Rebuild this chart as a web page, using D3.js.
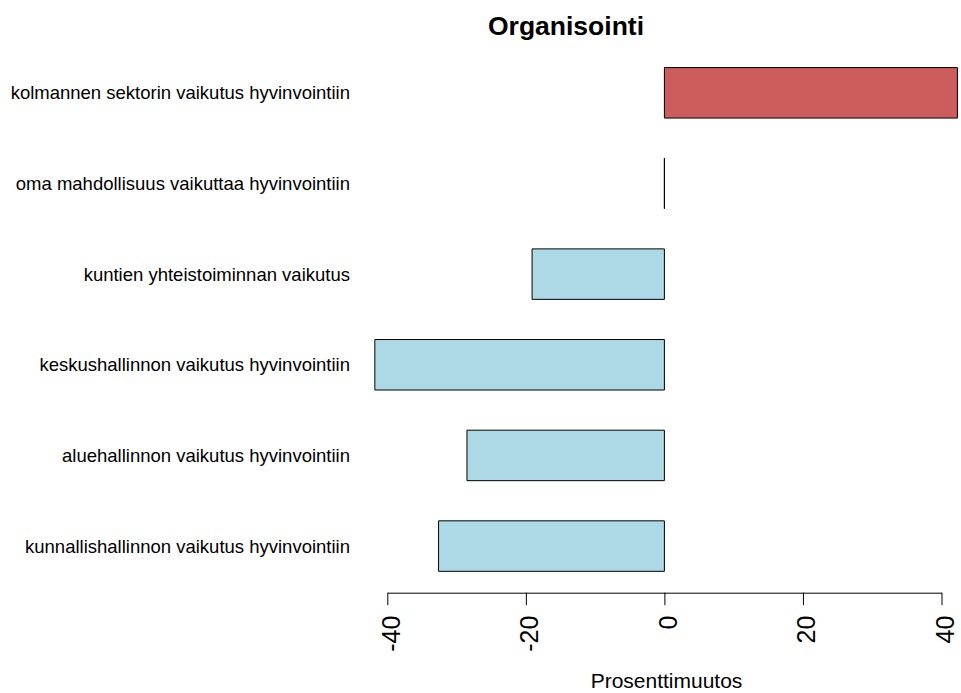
<!DOCTYPE html>
<html>
<head>
<meta charset="utf-8">
<script src="https://cdn.jsdelivr.net/npm/d3@7"></script>
<style>
  body { margin: 0; background: #fff; }
  svg text { font-family: "Liberation Sans", Arial, Helvetica, sans-serif; fill: #000; }
</style>
</head>
<body>
<script>
// kategoriat ylhäältä alas
var categories = [
  "kolmannen sektorin vaikutus hyvinvointiin",
  "oma mahdollisuus vaikuttaa hyvinvointiin",
  "kuntien yhteistoiminnan vaikutus",
  "keskushallinnon vaikutus hyvinvointiin",
  "aluehallinnon vaikutus hyvinvointiin",
  "kunnallishallinnon vaikutus hyvinvointiin"
];
// prosenttimuutos
var values = [42.3, 0, -19.1, -41.8, -28.5, -32.6];
var xTicks = [-40, -20, 0, 20, 40];

var width = 961, height = 693;

var svg = d3.select("body").append("svg")
  .attr("width", width)
  .attr("height", height);

var xScale = d3.scaleLinear().domain([-40, 40]).range([387.3, 941.5]);
var yScale = d3.scaleBand()
  .domain(categories)
  .range([47.5, 591.4])
  .paddingInner(0.443)
  .paddingOuter(0.2215);

// palkit (path, jotta nollapalkki näkyy viivana)
svg.append("g").selectAll("path")
  .data(categories)
  .enter()
  .append("path")
  .attr("d", function (d, i) {
    var x0 = xScale(0), x1 = xScale(values[i]);
    var y0 = yScale(d), y1 = y0 + yScale.bandwidth();
    return "M" + x0 + "," + y0 + "H" + x1 + "V" + y1 + "H" + x0 + "Z";
  })
  .attr("fill", function (d, i) { return values[i] > 0 ? "#CD5C5C" : "#ADD8E6"; })
  .attr("stroke", "#000")
  .attr("stroke-width", 1);

// nimet
svg.append("g").selectAll("text")
  .data(categories)
  .enter()
  .append("text")
  .attr("x", 350)
  .attr("y", function (d) { return yScale(d) + yScale.bandwidth() / 2; })
  .attr("dy", "0.35em")
  .attr("text-anchor", "end")
  .style("font-size", "18.5px")
  .text(function (d) { return d; });

// x-akseli
var xAxis = d3.axisBottom(xScale)
  .tickValues(xTicks)
  .tickSize(12.5)
  .tickSizeOuter(0)
  .tickFormat(function (d) { return String(d); });

var xAxisG = svg.append("g")
  .attr("transform", "translate(0,592.7)")
  .call(xAxis);
xAxisG.select(".domain").attr("stroke", "#000");
xAxisG.selectAll(".tick line").attr("stroke", "#000");
xAxisG.selectAll(".tick text")
  .attr("y", 0)
  .attr("dy", "0.47em")
  .attr("text-anchor", "end")
  .attr("transform", "translate(0,23) rotate(-90)")
  .style("font-size", "25px")
  .style("font-family", "Liberation Sans, Arial, sans-serif")
  .attr("fill", "#000");

// otsikot
svg.append("text")
  .attr("x", 566)
  .attr("y", 35)
  .attr("text-anchor", "middle")
  .style("font-size", "26.5px")
  .style("font-weight", "bold")
  .text("Organisointi");

svg.append("text")
  .attr("x", 666.5)
  .attr("y", 688)
  .attr("text-anchor", "middle")
  .style("font-size", "21px")
  .text("Prosenttimuutos");
</script>
</body>
</html>
